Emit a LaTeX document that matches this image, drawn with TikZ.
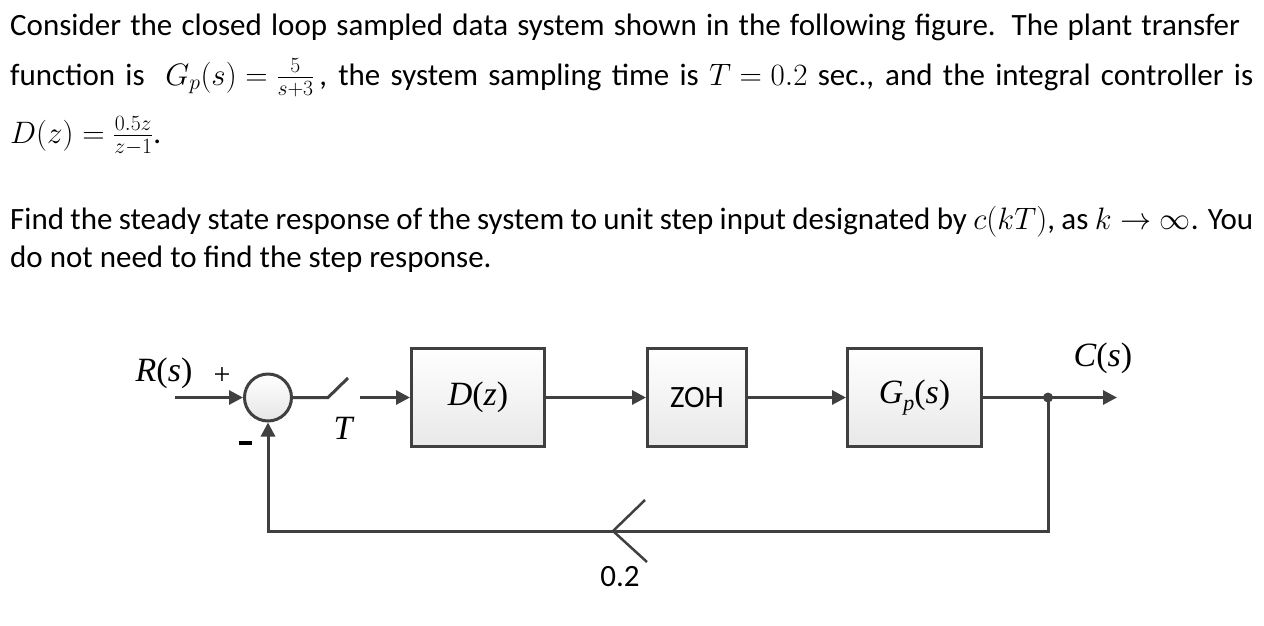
\RequirePackage{fix-cm}
\documentclass[tikz,border=0pt]{standalone}
\usepackage{fontspec}
\setmainfont{Carlito}
\newfontfamily\tms{Liberation Serif}
\usetikzlibrary{arrows.meta}
\definecolor{ln}{HTML}{404040}
\begin{document}
\begin{tikzpicture}[x=1pt,y=-1pt,
  txt/.style={anchor=base west, inner sep=0pt, font=\fontsize{31}{37}\selectfont},
  blk/.style={draw=ln, line width=3pt, top color=white, bottom color=black!9, minimum height=98pt, inner sep=0pt},
  wire/.style={draw=ln, line width=3pt},
  arr/.style={wire, -{Triangle[length=14pt,width=14pt]}},
  lbl/.style={font=\tms\fontsize{34}{40}\selectfont, inner sep=0pt},
  sans/.style={font=\fontsize{31}{37}\selectfont, inner sep=0pt}
]
\useasboundingbox (0,0) rectangle (1264,625);
% text
\node[txt] (l1) at (10,35) {\makebox[1230pt][s]{Consider the closed loop sampled data system shown in the following figure. The plant transfer}};
\node[txt] (l2) at (10,85) {\makebox[1243pt][s]{function is \ \mbox{$G_p(s)=\frac{5}{s+3}$}\,, the system sampling time is \mbox{$T=0.2$} sec., and the integral controller is}};
\node[txt] (l3) at (10,143) {$D(z)=\frac{0.5z}{z-1}$.};
\node[txt] (l4) at (10,229) {\makebox[1243pt][s]{Find the steady state response of the system to unit step input designated by \mbox{$c(kT)$}, as \mbox{$k\rightarrow\infty$}. You}};
\node[txt] (l5) at (10,267) {do not need to find the step response.};
% diagram
\node[circle, draw=ln, line width=3pt, top color=white, bottom color=black!10, minimum size=47pt, inner sep=0pt] (sum) at (268,397.5) {};
\node[blk, minimum width=133pt, lbl] (dz) at (478,397.5) {{\itshape D}({\itshape z})};
\node[blk, minimum width=99pt, sans] (zoh) at (697,397.5) {ZOH};
\node[blk, minimum width=134pt, lbl] (gp) at (914.5,397.5) {{\itshape G\raisebox{-0.2em}{\fontsize{22}{22}\selectfont p}}({\itshape s})};
\coordinate (rin) at (175,397.5);
\coordinate (s1) at (328,397.5);
\coordinate (s2) at (348,378);
\coordinate (s3) at (360,397.5);
\coordinate (dot) at (1048,397.5);
\coordinate (out) at (1117,397.5);
\coordinate (fb1) at (1048,531);
\coordinate (fb2) at (268,531);
\coordinate (gv) at (613,531);
\coordinate (ga) at (645,500);
\coordinate (gb) at (647,562);
\draw[arr] (rin) -- (sum.west);
\draw[wire] (sum.east) -- (s1) -- (s2);
\draw[arr] (s3) -- (dz.west);
\draw[arr] (dz.east) -- (zoh.west);
\draw[arr] (zoh.east) -- (gp.west);
\draw[wire] (gp.east) -- (dot);
\draw[arr] (dot) -- (out);
\draw[arr] (dot) -- (fb1) -- (fb2) -- (sum.south);
\fill[ln] (dot) circle (5pt);
\draw[ln, line width=2.5pt] (ga) -- (gv) -- (gb);
\node[lbl] (R) at (164,373) {{\itshape R}({\itshape s})};
\node[lbl, font=\tms\fontsize{30}{36}\selectfont] (plus) at (222,376) {+};
\node[inner sep=0pt] (minus) at (245,443) {\rule{13pt}{3.5pt}};
\node[lbl] (T) at (343,428) {\itshape T};
\node[lbl] (C) at (1103,358) {{\itshape C}({\itshape s})};
\node[sans] (g) at (620,577) {0.2};
\end{tikzpicture}
\end{document}
